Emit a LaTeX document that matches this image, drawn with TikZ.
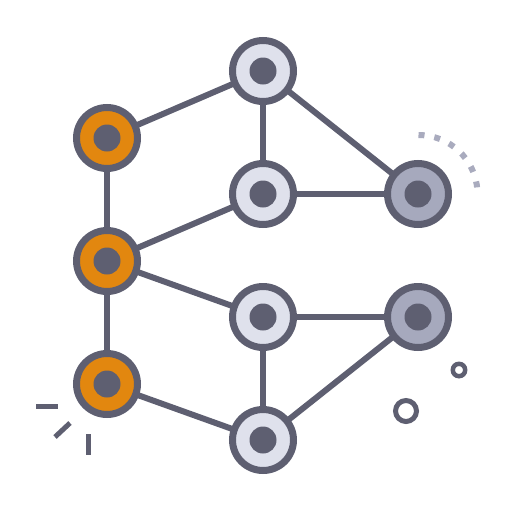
\documentclass[tikz,border=0pt]{standalone}
\begin{document}
\begin{tikzpicture}[x=1pt,y=-1pt,
  nodeo/.style={circle,draw=darkc,line width=7pt,fill=orangec,minimum size=61pt,inner sep=0pt},
  nodel/.style={circle,draw=darkc,line width=7pt,fill=lightc,minimum size=61pt,inner sep=0pt},
  nodeg/.style={circle,draw=darkc,line width=7pt,fill=grayc,minimum size=61pt,inner sep=0pt},
  edge/.style={draw=darkc,line width=6pt},
  deco/.style={draw=darkc,line width=5pt}]
\definecolor{darkc}{HTML}{5E5F71}
\definecolor{orangec}{HTML}{E2870F}
\definecolor{lightc}{HTML}{DFE1EC}
\definecolor{grayc}{HTML}{A6A9BD}
\definecolor{dotc}{HTML}{A9ABBE}
\useasboundingbox (0,0) rectangle (512,512);
\coordinate (o1) at (107,138);
\coordinate (o2) at (107,261);
\coordinate (o3) at (107,384);
\coordinate (l1) at (263,71);
\coordinate (l2) at (263,194);
\coordinate (l3) at (263,317);
\coordinate (l4) at (263,440);
\coordinate (g1) at (418,194);
\coordinate (g2) at (418,317);
% edges
\draw[edge] (o1) -- (l1);
\draw[edge] (o1) -- (o2);
\draw[edge] (o2) -- (l2);
\draw[edge] (o2) -- (l3);
\draw[edge] (o2) -- (o3);
\draw[edge] (o3) -- (l4);
\draw[edge] (l1) -- (l2);
\draw[edge] (l1) -- (g1);
\draw[edge] (l2) -- (g1);
\draw[edge] (l3) -- (g2);
\draw[edge] (l3) -- (l4);
\draw[edge] (l4) -- (g2);
% nodes
\foreach \n in {o1,o2,o3}{\node[nodeo] (n\n) at (\n) {}; \fill[darkc] (\n) circle (13.5);}
\foreach \n in {l1,l2,l3,l4}{\node[nodel] (n\n) at (\n) {}; \fill[darkc] (\n) circle (13.5);}
\foreach \n in {g1,g2}{\node[nodeg] (n\n) at (\n) {}; \fill[darkc] (\n) circle (13.5);}
% dotted arc
\coordinate (arcstart) at (418.5,135);
\draw[draw=dotc,line width=6pt,dash pattern=on 6pt off 10pt] (arcstart) arc[start angle=-90,end angle=-3,radius=59];
% small circles
\draw[darkc,line width=4.5pt] (459,370) circle (6.2);
\draw[darkc,line width=5pt] (406,411) circle (10.5);
% sparks
\coordinate (s1a) at (36,406); \coordinate (s1b) at (58,406);
\coordinate (s2a) at (55,437); \coordinate (s2b) at (70,423);
\coordinate (s3a) at (88,434); \coordinate (s3b) at (88,455);
\draw[deco] (s1a) -- (s1b);
\draw[deco] (s2a) -- (s2b);
\draw[deco] (s3a) -- (s3b);
\end{tikzpicture}
\end{document}
